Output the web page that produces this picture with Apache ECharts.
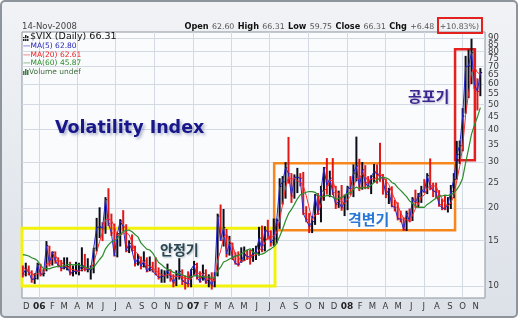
<!DOCTYPE html>
<html><head><meta charset="utf-8">
<script src="https://cdn.jsdelivr.net/npm/echarts@6/dist/echarts.min.js"></script>
<style>html,body{margin:0;padding:0;background:#fff;}#c{width:520px;height:321px;}</style>
</head><body><div id="c"></div>
<script>
// ---- DATA (weekly bars; week starts Monday) ----
const firstWeek = '2005-11-21';
const weekHigh = [
12.0,12.3,12.0,11.5,11.2,12.3,
12.2,11.6,14.9,14.3,13.6,13.6,12.9,12.6,12.9,12.9,12.4,12.0,12.4,12.3,14.1,13.3,12.8,12.0,14.0,18.3,20.1,17.6,22.0,23.8,19.0,17.4,16.0,18.1,19.6,17.3,15.0,15.8,14.3,13.3,13.0,13.6,12.9,13.0,12.4,12.9,11.8,11.6,11.5,12.2,11.6,11.1,11.5,12.8,11.6,11.0,11.4,11.6,
12.5,12.3,11.4,12.1,11.6,11.1,11.3,11.3,19.0,20.6,19.8,16.6,15.6,14.7,13.5,13.6,14.1,14.2,13.8,13.8,14.0,14.3,16.9,17.1,17.0,18.0,16.4,18.2,18.2,26.0,26.5,30.0,37.5,27.2,26.9,28.5,27.2,27.5,20.3,19.1,18.6,22.6,22.8,24.3,28.7,31.1,27.8,31.1,24.3,23.3,24.5,22.5,
24.3,26.5,29.4,37.6,30.9,30.0,29.2,26.5,26.7,29.5,29.4,35.6,27.0,25.8,23.9,24.2,21.5,21.0,19.5,18.4,19.5,19.9,22.0,23.5,22.8,24.3,25.8,27.2,31.0,25.0,25.0,23.4,21.7,22.3,22.0,24.5,27.2,36.2,36.3,48.4,76.9,81.2,89.5,81.5,63.0,69.0
];
const weekLow = [
10.8,10.9,11.0,10.3,10.2,10.6,
10.9,10.9,11.4,11.9,12.0,12.2,11.8,11.4,11.6,11.5,11.0,10.9,11.1,11.0,11.4,11.4,11.3,10.6,11.2,13.6,15.3,14.9,15.9,17.0,15.6,13.0,12.9,14.2,16.2,13.5,13.4,13.6,11.9,12.0,11.6,11.8,11.3,11.4,11.3,11.0,10.6,10.3,10.3,10.7,10.4,9.9,10.0,10.6,10.1,9.7,9.9,9.9,
11.0,10.6,10.3,10.5,10.2,9.9,9.7,9.9,10.9,14.9,14.2,12.9,13.1,12.6,12.1,11.9,12.3,12.5,12.6,12.1,12.4,12.6,13.1,13.5,13.6,15.1,14.2,14.3,14.6,16.6,20.6,21.7,24.8,20.9,21.7,22.8,24.2,18.8,17.6,16.0,16.0,17.2,18.8,17.6,21.3,22.5,22.0,22.4,19.8,20.0,19.5,18.6,
19.6,22.4,22.0,25.3,23.2,23.5,23.6,23.6,22.6,25.0,24.8,25.2,22.5,21.8,20.7,20.1,19.4,17.9,17.6,16.3,16.3,17.6,17.8,20.0,20.0,20.9,22.8,22.6,23.4,22.0,21.8,20.2,19.6,19.6,19.2,19.8,21.8,25.7,29.5,33.0,46.1,52.9,59.9,57.5,47.4,53.8
];
const weekClose = [
11.1,11.6,11.3,10.6,10.7,12.1,
11.1,11.2,14.3,12.2,13.5,12.5,12.0,11.7,11.8,11.9,11.2,11.4,11.4,11.5,12.0,11.6,11.6,11.6,14.0,16.8,16.9,16.7,21.5,17.4,16.0,13.1,15.9,17.8,16.9,13.7,14.6,13.7,12.2,12.8,11.9,12.5,11.4,11.8,11.4,11.1,10.8,10.9,11.0,11.5,10.9,10.3,10.9,11.4,10.5,10.3,10.2,11.6,
12.1,10.8,10.4,11.2,10.3,10.7,10.0,11.0,18.6,15.0,16.8,13.3,14.6,12.9,12.2,12.1,12.5,13.2,13.0,12.9,13.4,13.4,15.3,13.8,16.4,16.2,14.7,15.2,17.9,24.2,25.2,28.5,27.1,22.2,26.2,26.2,26.0,19.0,18.0,17.0,17.7,22.4,19.0,23.2,28.5,24.4,26.0,22.9,20.6,21.2,20.0,21.2,
23.9,23.7,27.2,29.0,24.0,28.0,25.0,24.1,26.5,27.5,27.0,26.6,25.7,22.5,23.5,20.3,20.1,18.2,18.1,16.5,19.0,17.8,21.6,21.0,22.2,23.4,23.0,26.6,24.3,23.2,23.0,20.6,20.0,19.8,20.7,23.1,25.7,32.1,34.7,45.1,69.9,70.3,79.1,59.9,56.1,66.3
];
// closes of the 12 weeks before the visible range (feed the moving averages only)
const priorCloses = [12.6,12.3,12.5,13.0,12.2,14.8,16.8,15.5,14.0,12.8,12.0,11.6];
const monthLetters = ['J','F','M','A','M','J','J','A','S','O','N','D'];
const yTickLabels = [10,15,20,25,30,35,40,45,50,55,60,65,70,75,80,85,90];
const yGridValues = [10,15,20,25,30,40,50,60,70,80,90];
const phaseBoxes = [
  {from:'2005-11-21', to:'2007-07-14', lo:10.0, hi:16.7, color:'#f2f20a', width:3},
  {from:'2007-07-12', to:'2008-09-13', lo:16.4, hi:29.7, color:'#f7871c', width:2.5},
  {from:'2008-09-13', to:'2008-10-30', lo:30.5, hi:81.5, color:'#e3221f', width:2.5}
];

// ---- helpers ----
const DAY = 86400000;
function dayNum(s){ const p = s.split('-').map(Number); return Date.UTC(p[0], p[1]-1, p[2]) / DAY; }
const lg = v => Math.log10(v);
const xMin = dayNum('2005-11-21'), xMax = dayNum('2008-11-23');
const w0 = dayNum(firstWeek);
const weekX = weekClose.map((_, i) => w0 + i*7 + 2);

const allCloses = priorCloses.concat(weekClose);
function movingAvg(n){
  return weekClose.map((_, i) => {
    const end = i + priorCloses.length;
    let s = 0; for (let k = end - n + 1; k <= end; k++) s += allCloses[k];
    return [weekX[i], lg(s / n)];
  });
}
// 5, 20, 60 trading days ~ 1, 4, 12 weekly closes
const ma5 = movingAvg(1), ma20 = movingAvg(4), ma60 = movingAvg(12);

const barData = weekClose.map((c, i) => [weekX[i], lg(weekHigh[i]), lg(weekLow[i]), lg(c),
  (i === 0 ? c >= priorCloses[priorCloses.length-1] : c >= weekClose[i-1]) ? 1 : 0]);

const monthDays = [], quarterDays = [];
for (let y = 2005; y <= 2008; y++) for (let m = 0; m < 12; m++) {
  const d = Date.UTC(y, m, 1) / DAY;
  if (d > xMin && d < xMax) { monthDays.push(d); if (m % 3 === 0) quarterDays.push(d); }
}

const chart = echarts.init(document.getElementById('c'), null, {renderer:'canvas'});
const FONT = 'DejaVu Sans';
const KFONT = '"Noto Sans CJK KR"';

// the log-scale labels sit a few pixels apart at the top, so they are split over two
// identical right-hand axes (alternate labels) to stop the library hiding any of them
const yLabelsA = yTickLabels.filter((v, i) => i % 2 === 0);
const yLabelsB = yTickLabels.filter((v, i) => i % 2 === 1);
function yAxisDef(labels, withGrid){
  return {
    type:'value', position:'right', min:lg(9.0), max:lg(95),
    axisLine:{show:false},
    axisTick:{show:false, customValues:yGridValues.map(lg)},
    splitLine:{show:withGrid, lineStyle:{color:'#d4dae3', width:1}},
    axisLabel:{
      customValues:labels.map(lg), margin:3, fontSize:8.5, color:'#3a3a3a', fontFamily:FONT,
      hideOverlap:false,
      formatter:function(v){ return String(Math.round(Math.pow(10, v))); }
    }
  };
}

chart.setOption({
  animation:false,
  backgroundColor:'#ffffff',
  grid:{left:22, right:35, top:32, height:266, show:true, backgroundColor:'#fafbfd', borderColor:'#8c949f', borderWidth:1},
  xAxis:{
    type:'value', min:xMin, max:xMax,
    axisLine:{show:false},
    axisTick:{show:false, customValues:quarterDays},
    splitLine:{show:true, lineStyle:{color:'#d4dae3', width:1}},
    axisLabel:{
      customValues:monthDays, margin:4, fontSize:8.5, color:'#3a3a3a', fontFamily:FONT, hideOverlap:false,
      formatter:function(v){
        const d = new Date(Math.round(v) * DAY); const m = d.getUTCMonth();
        if (m === 0) return '{y|' + String(d.getUTCFullYear()).slice(2) + '}';
        return monthLetters[m];
      },
      rich:{y:{fontWeight:'bold', fontSize:9, color:'#222', fontFamily:FONT}}
    }
  },
  yAxis:[yAxisDef(yLabelsA, true), yAxisDef(yLabelsB, false)],
  series:[
    {
      type:'custom', name:'VIX', z:2, data:barData, encode:{x:0, y:[1,2,3]},
      renderItem:function(params, api){
        const x = api.value(0);
        const ph = api.coord([x, api.value(1)]);
        const pl = api.coord([x, api.value(2)]);
        const pc = api.coord([x, api.value(3)]);
        const col = api.value(4) ? '#0d0d1a' : '#e01818';
        return {type:'group', children:[
          {type:'line', shape:{x1:ph[0], y1:ph[1], x2:pl[0], y2:pl[1]}, style:{stroke:col, lineWidth:2}},
          {type:'line', shape:{x1:pc[0], y1:pc[1], x2:pc[0]+1.8, y2:pc[1]}, style:{stroke:col, lineWidth:1}}
        ]};
      }
    },
    {type:'line', name:'MA5', z:3, data:ma5, showSymbol:false, lineStyle:{color:'#2626c8', width:1}},
    {type:'line', name:'MA20', z:4, data:ma20, showSymbol:false, lineStyle:{color:'#ff2a2a', width:1}},
    {type:'line', name:'MA60', z:5, data:ma60, showSymbol:false, lineStyle:{color:'#2b8c2b', width:1.2},
      markArea:{silent:true, label:{show:false},
        data:phaseBoxes.map(b => [
          {xAxis:dayNum(b.from), yAxis:lg(b.lo), itemStyle:{color:'rgba(0,0,0,0)', borderColor:b.color, borderWidth:b.width}},
          {xAxis:dayNum(b.to), yAxis:lg(b.hi)}
        ])
      }
    }
  ],
  graphic:[
    {type:'rect', z:-10, silent:true, shape:{x:1, y:1, width:516, height:316, r:4},
      style:{fill:new echarts.graphic.LinearGradient(0,0,0,1,[{offset:0,color:'#f1f3f6'},{offset:1,color:'#dce1e8'}]), stroke:'#8e949c', lineWidth:2}},
    // header
    {type:'text', x:22, y:27, z:10, style:{text:'14-Nov-2008', font:'8.5px ' + FONT, fill:'#444', align:'left', verticalAlign:'middle', textAlign:'left', textVerticalAlign:'middle'}},
    {type:'text', x:479, y:27, z:10, style:{
      text:'{b|Open} {v|62.60} {b|High} {v|66.31} {b|Low} {v|59.75} {b|Close} {v|66.31} {b|Chg} {v|+6.48 (+10.83%)}',
      align:'right', verticalAlign:'middle', textAlign:'right', textVerticalAlign:'middle',
      rich:{b:{font:'bold 8.2px ' + FONT, fill:'#111'}, v:{font:'7.8px ' + FONT, fill:'#555'}}}},
    {type:'rect', z:11, silent:true, shape:{x:438, y:18, width:44, height:15}, style:{fill:'none', stroke:'#e3221f', lineWidth:2}},
    // legend
    {type:'group', x:23, y:34, z:10, children:[
      {type:'rect', shape:{x:0, y:3, width:1.5, height:4}, style:{fill:'#222'}},
      {type:'rect', shape:{x:2, y:1, width:1.5, height:6}, style:{fill:'#222'}},
      {type:'rect', shape:{x:4, y:2, width:1.5, height:5}, style:{fill:'#222'}}
    ]},
    {type:'text', x:30, y:37, z:10, style:{text:'$VIX (Daily) 66.31', font:'9.5px ' + FONT, fill:'#111', align:'left', verticalAlign:'middle', textAlign:'left', textVerticalAlign:'middle'}},
    {type:'text', x:23, y:46, z:10, style:{text:'\u2014MA(5) 62.80', font:'7.5px ' + FONT, fill:'#2626b8', align:'left', verticalAlign:'middle', textAlign:'left', textVerticalAlign:'middle'}},
    {type:'text', x:23, y:55, z:10, style:{text:'\u2014MA(20) 62.61', font:'7.5px ' + FONT, fill:'#ee2222', align:'left', verticalAlign:'middle', textAlign:'left', textVerticalAlign:'middle'}},
    {type:'text', x:23, y:63, z:10, style:{text:'\u2014MA(60) 45.87', font:'7.5px ' + FONT, fill:'#2b8c2b', align:'left', verticalAlign:'middle', textAlign:'left', textVerticalAlign:'middle'}},
    {type:'group', x:23, y:68, z:10, children:[
      {type:'rect', shape:{x:0, y:3, width:1.5, height:4}, style:{fill:'#3f7f3f'}},
      {type:'rect', shape:{x:2, y:1, width:1.5, height:6}, style:{fill:'#3f7f3f'}},
      {type:'rect', shape:{x:4, y:2, width:1.5, height:5}, style:{fill:'#3f7f3f'}}
    ]},
    {type:'text', x:29, y:72, z:10, style:{text:'Volume undef', font:'7.5px ' + FONT, fill:'#3f6f3f', align:'left', verticalAlign:'middle', textAlign:'left', textVerticalAlign:'middle'}},
    // annotations
    {type:'text', x:55, y:128, z:12, style:{text:'Volatility Index', font:'bold 17.5px ' + FONT, fill:'#17178a', align:'left', verticalAlign:'middle', textAlign:'left', textVerticalAlign:'middle',
      textShadowColor:'rgba(60,70,130,0.4)', textShadowBlur:3, textShadowOffsetX:2, textShadowOffsetY:2}},
    {type:'text', x:160, y:250, z:12, style:{text:'안정기', font:'bold 14px ' + KFONT, fill:'#2a4652', align:'left', verticalAlign:'middle', textAlign:'left', textVerticalAlign:'middle',
      textShadowColor:'rgba(80,100,110,0.4)', textShadowBlur:2, textShadowOffsetX:1, textShadowOffsetY:1}},
    {type:'text', x:348, y:219, z:12, style:{text:'격변기', font:'bold 15px ' + KFONT, fill:'#2a78d6', align:'left', verticalAlign:'middle', textAlign:'left', textVerticalAlign:'middle',
      textShadowColor:'rgba(255,255,255,0.95)', textShadowBlur:3, textShadowOffsetX:0, textShadowOffsetY:0}},
    {type:'text', x:408, y:96, z:12, style:{text:'공포기', font:'bold 15px ' + KFONT, fill:'#3a268e', align:'left', verticalAlign:'middle', textAlign:'left', textVerticalAlign:'middle',
      textShadowColor:'rgba(90,80,150,0.4)', textShadowBlur:2, textShadowOffsetX:1, textShadowOffsetY:1}}
  ]
});
</script>
</body></html>
